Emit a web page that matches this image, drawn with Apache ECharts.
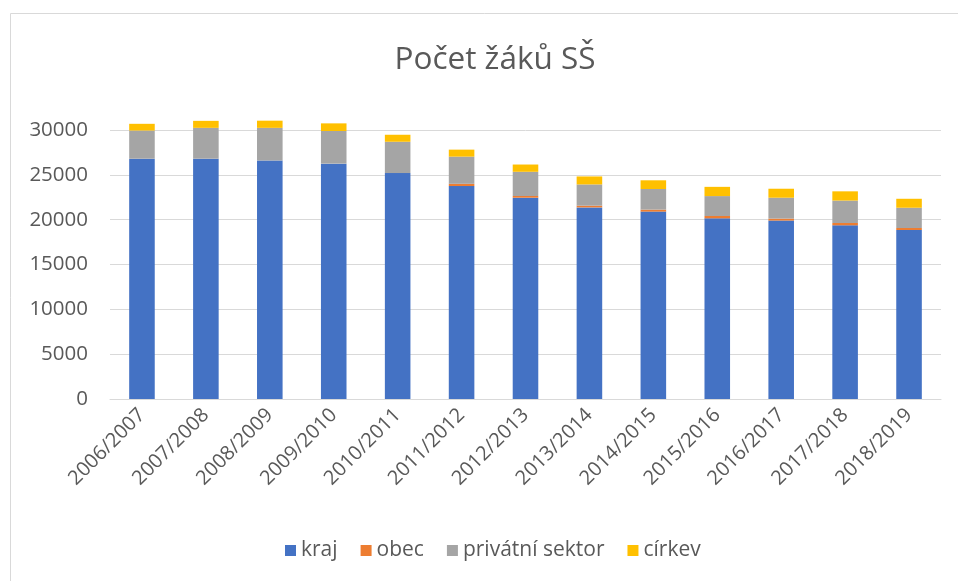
<!DOCTYPE html>
<html>
<head>
<meta charset="utf-8">
<script src="https://cdn.jsdelivr.net/npm/echarts@6/dist/echarts.min.js"></script>
<style>
html,body{margin:0;padding:0;background:#fff;}
#chart{width:958px;height:581px;}
</style>
</head>
<body>
<div id="chart"></div>
<script>
const categories = ['2006/2007','2007/2008','2008/2009','2009/2010','2010/2011','2011/2012','2012/2013','2013/2014','2014/2015','2015/2016','2016/2017','2017/2018','2018/2019'];
const kraj = [26800, 26800, 26600, 26250, 25200, 23750, 22450, 21370, 20900, 20150, 19900, 19370, 18850];
const obec = [0, 0, 0, 0, 0, 250, 190, 190, 220, 260, 220, 260, 220];
const privatniSektor = [3140, 3440, 3640, 3640, 3490, 3030, 2700, 2370, 2300, 2220, 2330, 2500, 2260];
const cirkev = [750, 780, 800, 850, 780, 780, 810, 890, 970, 1030, 1000, 1030, 1000];
const yTicks = [0, 5000, 10000, 15000, 20000, 25000, 30000];

const font = '"Open Sans", "DejaVu Sans", sans-serif';
const txt = '#595959';
const chart = echarts.init(document.getElementById('chart'), null, {renderer: 'canvas'});
function s(name, data, color) {
  return {name, type: 'bar', stack: 'total', data, barWidth: '40%', clip: false,
    itemStyle: {color}, emphasis: {disabled: true}};
}
chart.setOption({
  animation: false,
  graphic: [{type: 'rect', shape: {x: 10.5, y: 13.5, width: 1000, height: 700},
    style: {fill: 'none', stroke: '#D9D9D9', lineWidth: 1}, silent: true, z: -10}],
  title: {text: 'Počet žáků SŠ', left: 490, top: 39, textAlign: 'center',
    textStyle: {fontFamily: font, fontSize: 31.5, fontWeight: 'normal', color: txt}},
  legend: {data: ['kraj','obec','privátní sektor','církev'], left: 280, top: 535,
    icon: 'rect', itemWidth: 11, itemHeight: 11, itemGap: 23,
    textStyle: {fontFamily: font, fontSize: 21, color: txt, padding: [0,0,0,0]}},
  grid: {left: 110, right: 17, top: 130, bottom: 182, containLabel: false},
  xAxis: {type: 'category', data: categories,
    axisLine: {lineStyle: {color: '#D9D9D9', width: 1}}, axisTick: {show: false},
    axisLabel: {rotate: 45, interval: 0, margin: 13, fontFamily: font, fontSize: 20, color: txt}},
  yAxis: {type: 'value', min: 0, max: 30000, interval: 5000,
    axisLine: {show: false}, axisTick: {show: false},
    splitLine: {lineStyle: {color: '#D9D9D9', width: 1}},
    axisLabel: {margin: 22, fontFamily: font, fontSize: 20.5, color: txt,
      formatter: v => yTicks.includes(v) ? String(v) : ''}},
  series: [
    s('kraj', kraj, '#4472C4'),
    s('obec', obec, '#ED7D31'),
    s('privátní sektor', privatniSektor, '#A5A5A5'),
    s('církev', cirkev, '#FFC000')
  ]
});
</script>
</body>
</html>
